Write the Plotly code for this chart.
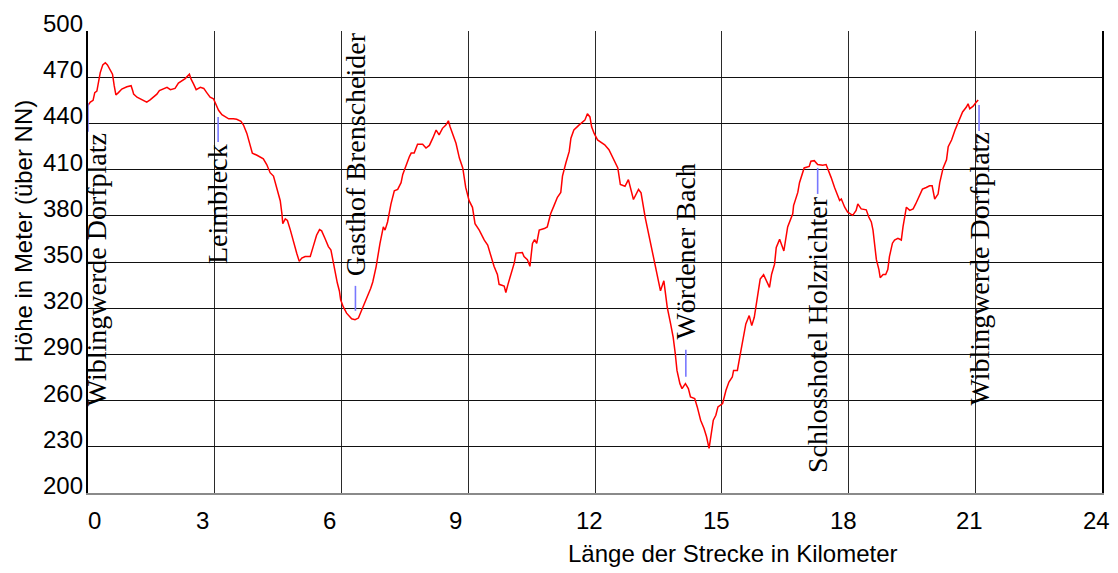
import plotly.graph_objects as go

# --- elevation profile (km, m) ---
km = [0, 0.055, 0.12, 0.16, 0.21, 0.25, 0.29, 0.35, 0.41, 0.46, 0.53, 0.58, 0.62, 0.66, 0.72, 0.80, 0.92, 1.02, 1.06, 1.08,
      1.16, 1.24, 1.32, 1.39, 1.47, 1.55, 1.63, 1.69, 1.79, 1.87, 1.95, 2.06, 2.14, 2.22, 2.30, 2.40, 2.44, 2.50, 2.56, 2.66,
      2.74, 2.81, 2.89, 2.97, 3.03, 3.09, 3.17, 3.25, 3.33, 3.44, 3.52, 3.62, 3.68, 3.76, 3.84, 3.89, 4.00, 4.15, 4.23, 4.31,
      4.39, 4.47, 4.55, 4.59, 4.61, 4.67, 4.72, 4.79, 4.85, 4.90, 4.94, 5.00, 5.06, 5.14, 5.26, 5.33, 5.41, 5.48, 5.53, 5.61,
      5.69, 5.75, 5.81, 5.85, 5.90, 5.95, 5.98, 6.04, 6.12, 6.24, 6.32, 6.40, 6.48, 6.56, 6.64, 6.69, 6.74, 6.82, 6.91, 6.99,
      7.03, 7.09, 7.17, 7.25, 7.33, 7.41, 7.45, 7.53, 7.61, 7.65, 7.72, 7.80, 7.92, 8.00, 8.08, 8.16, 8.24, 8.31, 8.39, 8.47,
      8.53, 8.57, 8.63, 8.71, 8.79, 8.87, 8.94, 9.02, 9.10, 9.16, 9.26, 9.38, 9.46, 9.54, 9.61, 9.69, 9.73, 9.85, 9.89, 9.94,
      10.01, 10.09, 10.13, 10.20, 10.28, 10.32, 10.40, 10.46, 10.52, 10.57, 10.62, 10.68, 10.80, 10.87, 10.95, 11.03, 11.11,
      11.19, 11.23, 11.31, 11.39, 11.43, 11.50, 11.62, 11.70, 11.76, 11.82, 11.88, 11.92, 11.98, 12.06, 12.17, 12.23, 12.33,
      12.41, 12.49, 12.54, 12.60, 12.71, 12.79, 12.83, 12.91, 13.03, 13.09, 13.19, 13.27, 13.35, 13.43, 13.51, 13.55, 13.63,
      13.71, 13.79, 13.85, 13.90, 13.94, 14.01, 14.06, 14.14, 14.21, 14.26, 14.36, 14.42, 14.50, 14.58, 14.64, 14.70, 14.75,
      14.80, 14.86, 14.91, 15.02, 15.10, 15.17, 15.25, 15.28, 15.37, 15.44, 15.49, 15.57, 15.65, 15.71, 15.77, 15.85, 15.91,
      15.99, 16.05, 16.13, 16.18, 16.25, 16.29, 16.37, 16.47, 16.56, 16.68, 16.70, 16.80, 16.84, 16.95, 17.07, 17.11, 17.19,
      17.27, 17.39, 17.47, 17.51, 17.59, 17.67, 17.75, 17.79, 17.83, 17.91, 17.98, 18.10, 18.18, 18.22, 18.30, 18.42, 18.48,
      18.54, 18.58, 18.62, 18.66, 18.72, 18.75, 18.82, 18.88, 18.93, 18.97, 19.04, 19.09, 19.17, 19.25, 19.29, 19.37, 19.45,
      19.53, 19.59, 19.67, 19.75, 19.84, 19.92, 19.98, 20.04, 20.12, 20.16, 20.24, 20.32, 20.36, 20.44, 20.52, 20.60, 20.64,
      20.70, 20.79, 20.83, 20.87, 20.95, 21.02, 21.07]
elev = [451.7, 453.8, 455, 460, 461, 468, 473, 478, 479.4, 478, 475, 472, 464.5, 458.5, 460, 462.3, 463.8, 464.5, 461, 459,
        457, 456, 455, 453.8, 455.3, 457, 459, 461.3, 462.3, 463.4, 461.9, 462.7, 466.2, 467.7, 469.1, 472, 468.7, 465.5, 461.9, 463.4,
        462.7, 460, 457, 456, 452.7, 448.5, 445.7, 444.2, 443, 443, 442.7, 441.4, 438.9, 433.5, 426, 420.7, 419.3, 417, 413.3, 408,
        405.8, 398.4, 389.8, 381.3, 374.9, 378, 377, 370.7, 364.2, 360, 355.7, 350.4, 352.5, 353.6, 353.6, 360, 367.4, 371, 370.2, 365.3,
        360, 357.8, 349.3, 341.9, 336.5, 331.2, 325.4, 321, 316.8, 313.1, 312.5, 313.6, 319, 324.3, 328.6, 332.8, 337, 347, 362, 372.8,
        370.7, 376, 387.6, 396.2, 397.2, 401.5, 406.9, 413.3, 418.6, 420.7, 420.7, 426.5, 426.5, 424, 425.7, 430.4, 435.7, 432.5, 436.8, 438.9,
        441.7, 437.8, 433.5, 427.1, 417.5, 411.1, 398.4, 389.8, 385.5, 374.9, 370.7, 364.2, 361, 353.6, 347.2, 341.9, 335.5, 334.4, 330.2, 335.5,
        341.9, 349.4, 355.8, 355.8, 356.2, 353.6, 351.5, 347.2, 362.1, 364.6, 362.1, 370.7, 371.7, 372.8, 381.3, 386.6, 392,
        395.2, 405.8, 414.3, 421.8, 430.4, 435.7, 438.9, 440.6, 442.1, 446.3, 444.2, 437.8, 433.5, 429.3, 427.1, 426.1, 422.9,
        418.6, 414.3, 411.1, 400.3, 399.2, 403.5, 399.2, 390.6, 397.1, 394.9, 378.7, 368, 359.4, 346.4, 337.8, 331.3, 337.8,
        320.6, 309.8, 301.2, 290.4, 279.6, 271, 267.8, 271, 267.8, 262.4, 261.3, 255.9, 247.3, 241.9, 236.5, 229, 238.7,
        247.3, 250.5, 255.9, 258.1, 266.7, 272.1, 275.3, 279.6, 279.6, 290.4, 297.9, 309.8, 315.2, 308.7, 314.1, 327, 338.9,
        341.7, 337.8, 333.5, 342.1, 348.6, 359.4, 364.7, 357.2, 372.8, 381.3, 386.6, 395.2, 401.5, 411.1, 412.1, 415.4, 415.8,
        413.3, 412.9, 413.3, 410, 404.8, 398.4, 392, 389.9, 390.9, 385.6, 382.4, 380.3, 383.5, 387.7, 384.5, 383.9, 379.2,
        376, 370.7, 362.2, 351.5, 345.1, 339.8, 341.9, 341.9, 345.1, 353.6, 362.2, 364.3, 365.4, 364.3, 372.8, 385.6, 383.5,
        384.5, 387.7, 392, 397.3, 398.4, 399.5, 399.5, 390.9, 394.1, 401.5, 411.1, 416.4, 424.9, 429.2, 435.6, 440.9, 443.1,
        447.4, 450.6, 452.7, 449.5, 451.2, 453.7, 455.2]

# --- places along the route ---
loc_names = ["Wiblingwerde Dorfplatz", "Leimbleck", "Gasthof Brenscheider", "Wördener Bach",
             "Schlosshotel Holzrichter", "Wiblingwerde Dorfplatz"]
loc_km = [0.0, 3.08, 6.33, 14.15, 17.27, 21.09]
loc_line_top = [453.3, 444.2, 334.5, 293.0, 411.1, 452.0]
loc_line_bottom = [434.5, 428.0, 318.3, 275.5, 394.2, 435.1]
loc_label_side = ["below", "below", "above", "above", "below", "below"]

x_ticks = [0, 3, 6, 9, 12, 15, 18, 21, 24]
y_ticks = [200, 230, 260, 290, 320, 350, 380, 410, 440, 470, 500]
x_title = "Länge der Strecke in Kilometer"
y_title = "Höhe in Meter (über NN)"

SANS = "Arial, 'Liberation Sans', sans-serif"
SERIF = "'Times New Roman', 'Liberation Serif', serif"

fig = go.Figure()

fig.add_trace(go.Scatter(x=km, y=elev, mode="lines", line=dict(color="#ff0000", width=1.5),
                         showlegend=False))

# blue marker lines
bx, by = [], []
for k, t, b in zip(loc_km, loc_line_top, loc_line_bottom):
    bx += [k, k, None]
    by += [t, b, None]
fig.add_trace(go.Scatter(x=bx, y=by, mode="lines", line=dict(color="#7878ff", width=1.6),
                         hoverinfo="skip", showlegend=False, cliponaxis=False))

ann = []
# location labels
for i, (name, k, t, b, side) in enumerate(zip(loc_names, loc_km, loc_line_top, loc_line_bottom, loc_label_side)):
    a = dict(x=k, xref="x", text=name, showarrow=False, textangle=-90,
             font=dict(family=SERIF, size=28, color="black"), xanchor="center",
             xshift=8 if i == 0 else 0)
    if side == "below":
        a.update(y=b, yref="y", yanchor="top", yshift=0)
    else:
        a.update(y=t, yref="y", yanchor="bottom", yshift=8)
    ann.append(a)

# y tick labels
for v in y_ticks:
    ann.append(dict(x=0, xref="paper", y=v, yref="y", text=str(v), showarrow=False,
                    xanchor="right", yanchor="middle", xshift=-3, yshift=7.5,
                    font=dict(family=SANS, size=24, color="black")))
# x tick labels
for v in x_ticks:
    ann.append(dict(x=v, xref="x", y=0, yref="paper", text=str(v), showarrow=False,
                    xanchor="left", yanchor="middle", xshift=-2 if v == 0 else -21, yshift=-27,
                    font=dict(family=SANS, size=24, color="black")))
# axis titles
ann.append(dict(x=0.6362, xref="paper", y=0, yref="paper", text=x_title, showarrow=False,
                xanchor="center", yanchor="middle", yshift=-60,
                font=dict(family=SANS, size=24, color="black")))
ann.append(dict(x=0, xref="paper", y=0.566, yref="paper", text=y_title, showarrow=False,
                textangle=-90, xanchor="center", yanchor="middle", xshift=-64,
                font=dict(family=SANS, size=24, color="black")))

fig.update_layout(
    width=1118, height=573, autosize=False,
    margin=dict(l=88, r=16, t=31, b=80, pad=0),
    paper_bgcolor="white", plot_bgcolor="white",
    annotations=ann,
    xaxis=dict(range=[0, 24], tickvals=x_ticks[1:-1], showticklabels=False, ticks="",
               showgrid=True, gridcolor="#2a2a2a", gridwidth=1, zeroline=False,
               showline=True, linecolor="#8a8a8a", linewidth=1.5, fixedrange=True),
    yaxis=dict(range=[200, 500], tickvals=y_ticks[1:-1], showticklabels=False, ticks="",
               showgrid=True, gridcolor="#111111", gridwidth=1, zeroline=False,
               showline=True, linecolor="black", linewidth=1.5, mirror=True, fixedrange=True),
)

fig.write_html("out.html", config={"displayModeBar": False},
               post_script="document.body.style.margin='0';document.body.style.overflow='hidden';")
